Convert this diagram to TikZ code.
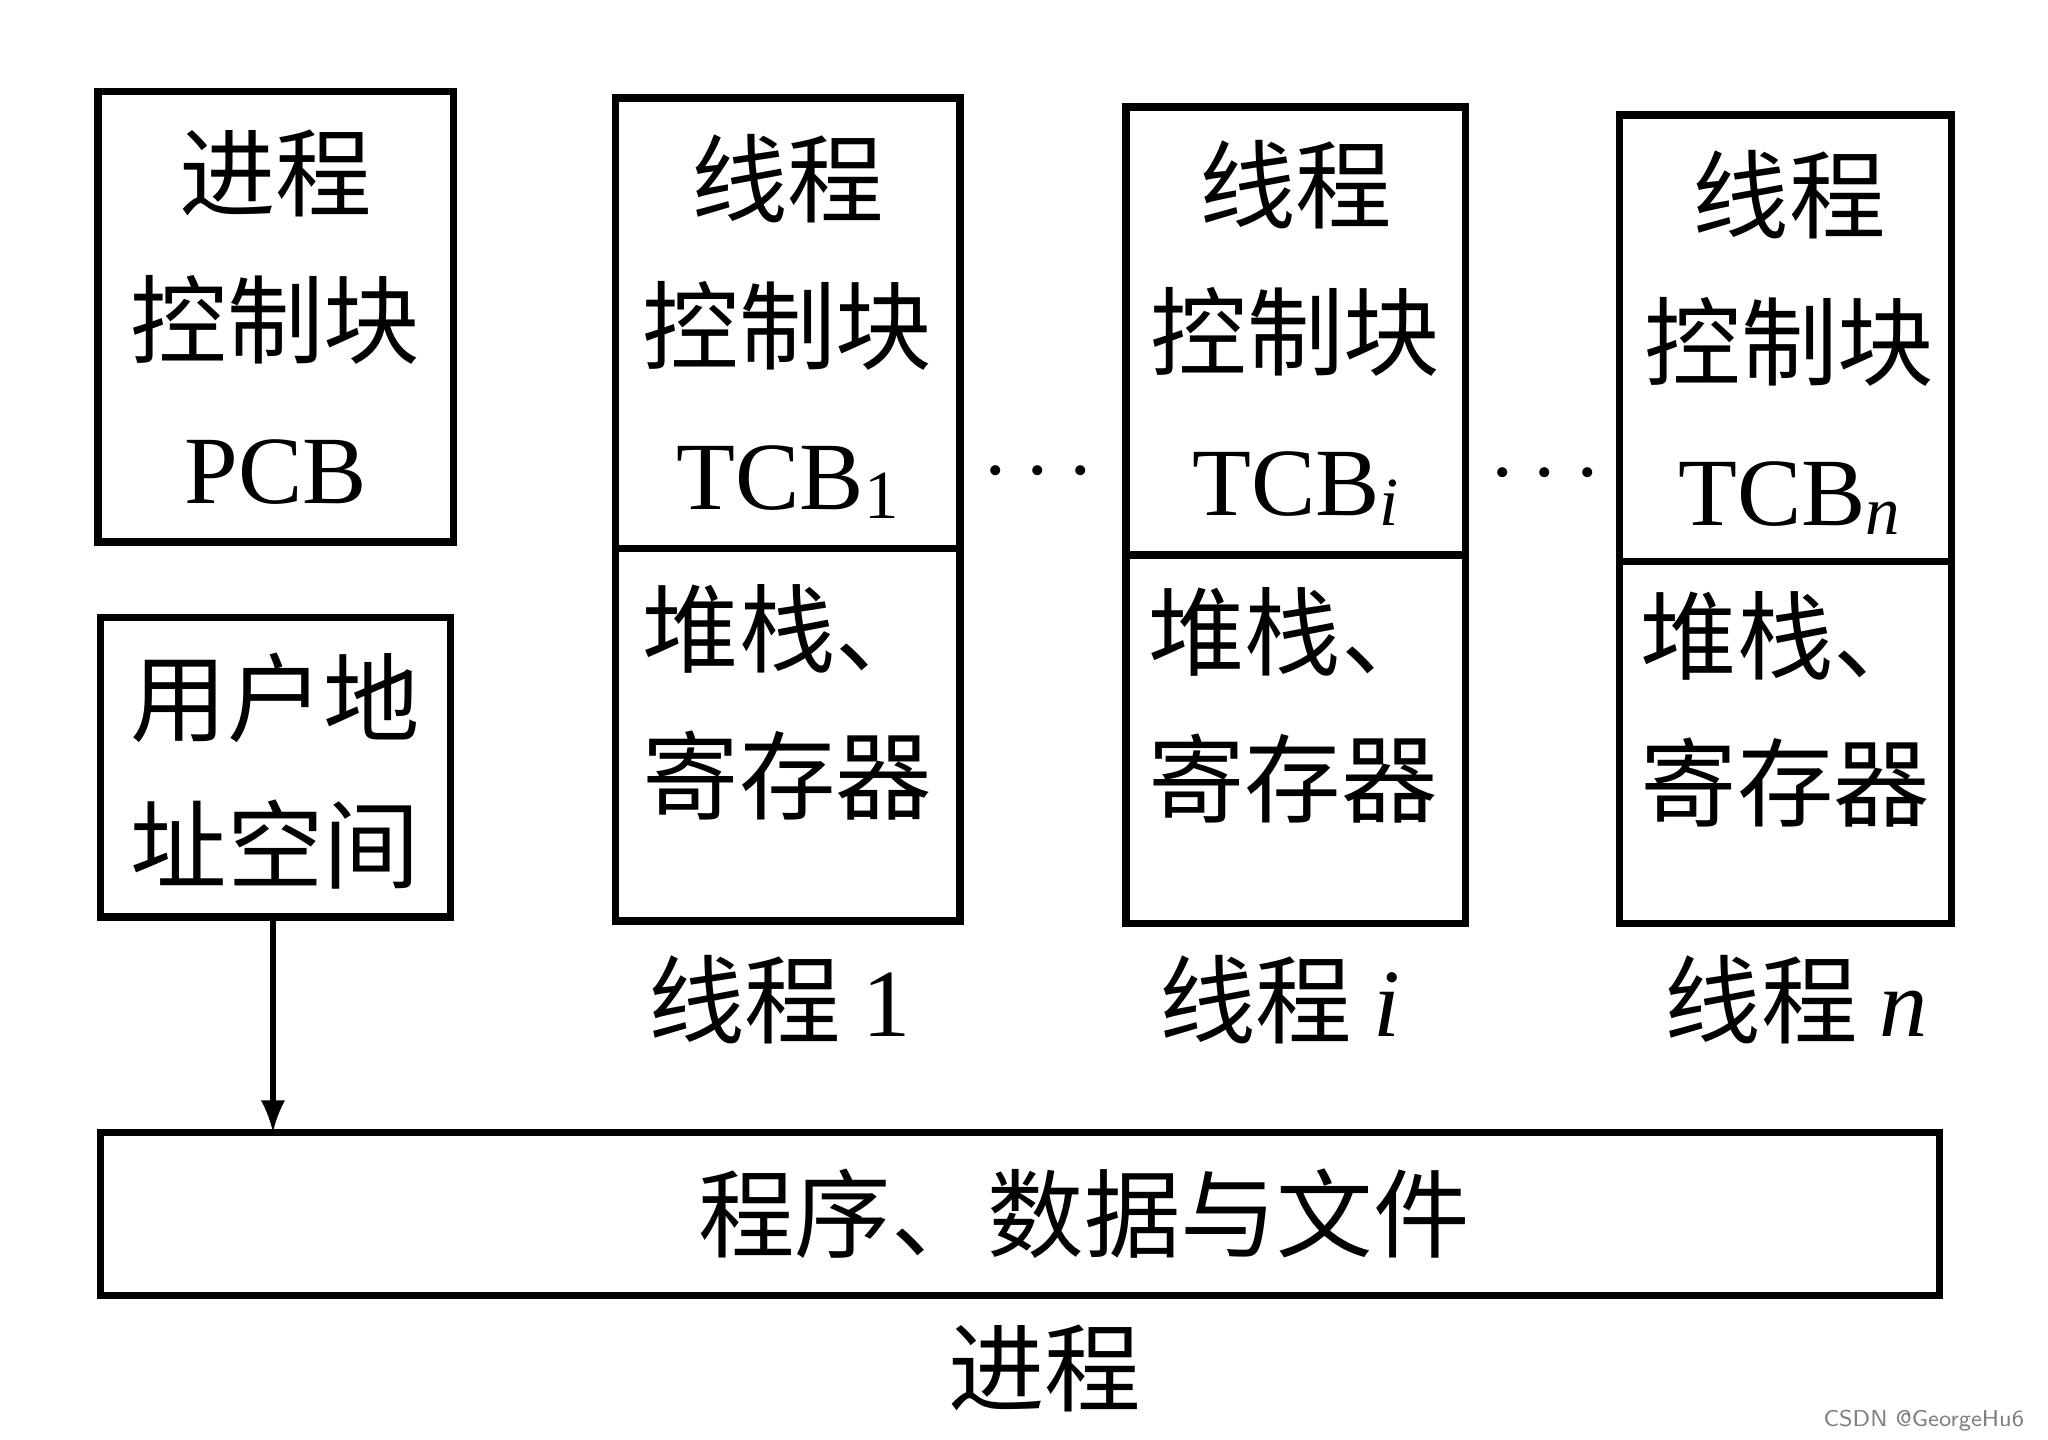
\documentclass[tikz,border=0pt]{standalone}
\usepackage{fontspec}
\setmainfont{Liberation Serif}
\newfontfamily\cjk{Noto Sans CJK SC}
\usetikzlibrary{positioning}
\begin{document}
\begin{tikzpicture}[
    x=0.01cm, y=-0.01cm,
    box/.style={draw, line width=1.6pt},
    txt/.style={font=\cjk\fontsize{21}{32}\selectfont, align=center},
    arrow/.style={-latex, line width=1.4pt}
]
\useasboundingbox (0,0) rectangle (1568,1102);

% Process side
\draw[box] (75,70) rectangle (347,415);
\node[txt] (pcb) at (211,243) {进程\\控制块\\{\rmfamily PCB}};
\draw[box] (77,473) rectangle (345,702);
\node[txt] (space) at (211,590) {用户地\\址空间};
\coordinate (spacebot) at (209,702);

% Threads
\draw[box] (471,75) rectangle (735,705);
\draw[box] (471,420) -- (735,420);
\node[txt] (tcbone) at (603,250) {线程\\控制块\\{\rmfamily TCB{\fontsize{15}{15}\selectfont\raisebox{-0.3ex}{1}}}};
\node[txt] (stackone) at (603,538) {堆栈、\\寄存器};
\node[txt] (labone) at (597,765) {线程 {\rmfamily 1}};

\draw[box] (862,82) rectangle (1122,707);
\draw[box] (862,425) -- (1122,425);
\node[txt] (tcbi) at (992,255) {线程\\控制块\\{\rmfamily TCB{\fontsize{15}{15}\selectfont\itshape\raisebox{-0.3ex}{i}}}};
\node[txt] (stacki) at (990,540) {堆栈、\\寄存器};
\node[txt] (labi) at (980,765) {线程 {\rmfamily\itshape i}};

\draw[box] (1240,88) rectangle (1494,707);
\draw[box] (1240,430) -- (1494,430);
\node[txt] (tcbn) at (1370,262) {线程\\控制块\\{\rmfamily TCB{\fontsize{15}{15}\selectfont\itshape\raisebox{-0.3ex}{n}}}};
\node[txt] (stackn) at (1367,543) {堆栈、\\寄存器};
\node[txt] (labn) at (1375,765) {线程 {\rmfamily\itshape n}};

\node[txt] (dotsa) at (795,362) {$\cdots$};
\node[txt] (dotsb) at (1183,364) {$\cdots$};

% Shared part
\draw[box] (77,867) rectangle (1485,992);
\node[txt] (shared) at (830,929) {程序、数据与文件};
\node[txt] (proc) at (800,1048) {进程};
\coordinate (sharedtop) at (209,867);
\draw[arrow] (spacebot) -- (sharedtop);

\node[font=\sffamily\tiny, text=gray, anchor=east] (mark) at (1562,1088) {CSDN @GeorgeHu6};
\end{tikzpicture}
\end{document}
